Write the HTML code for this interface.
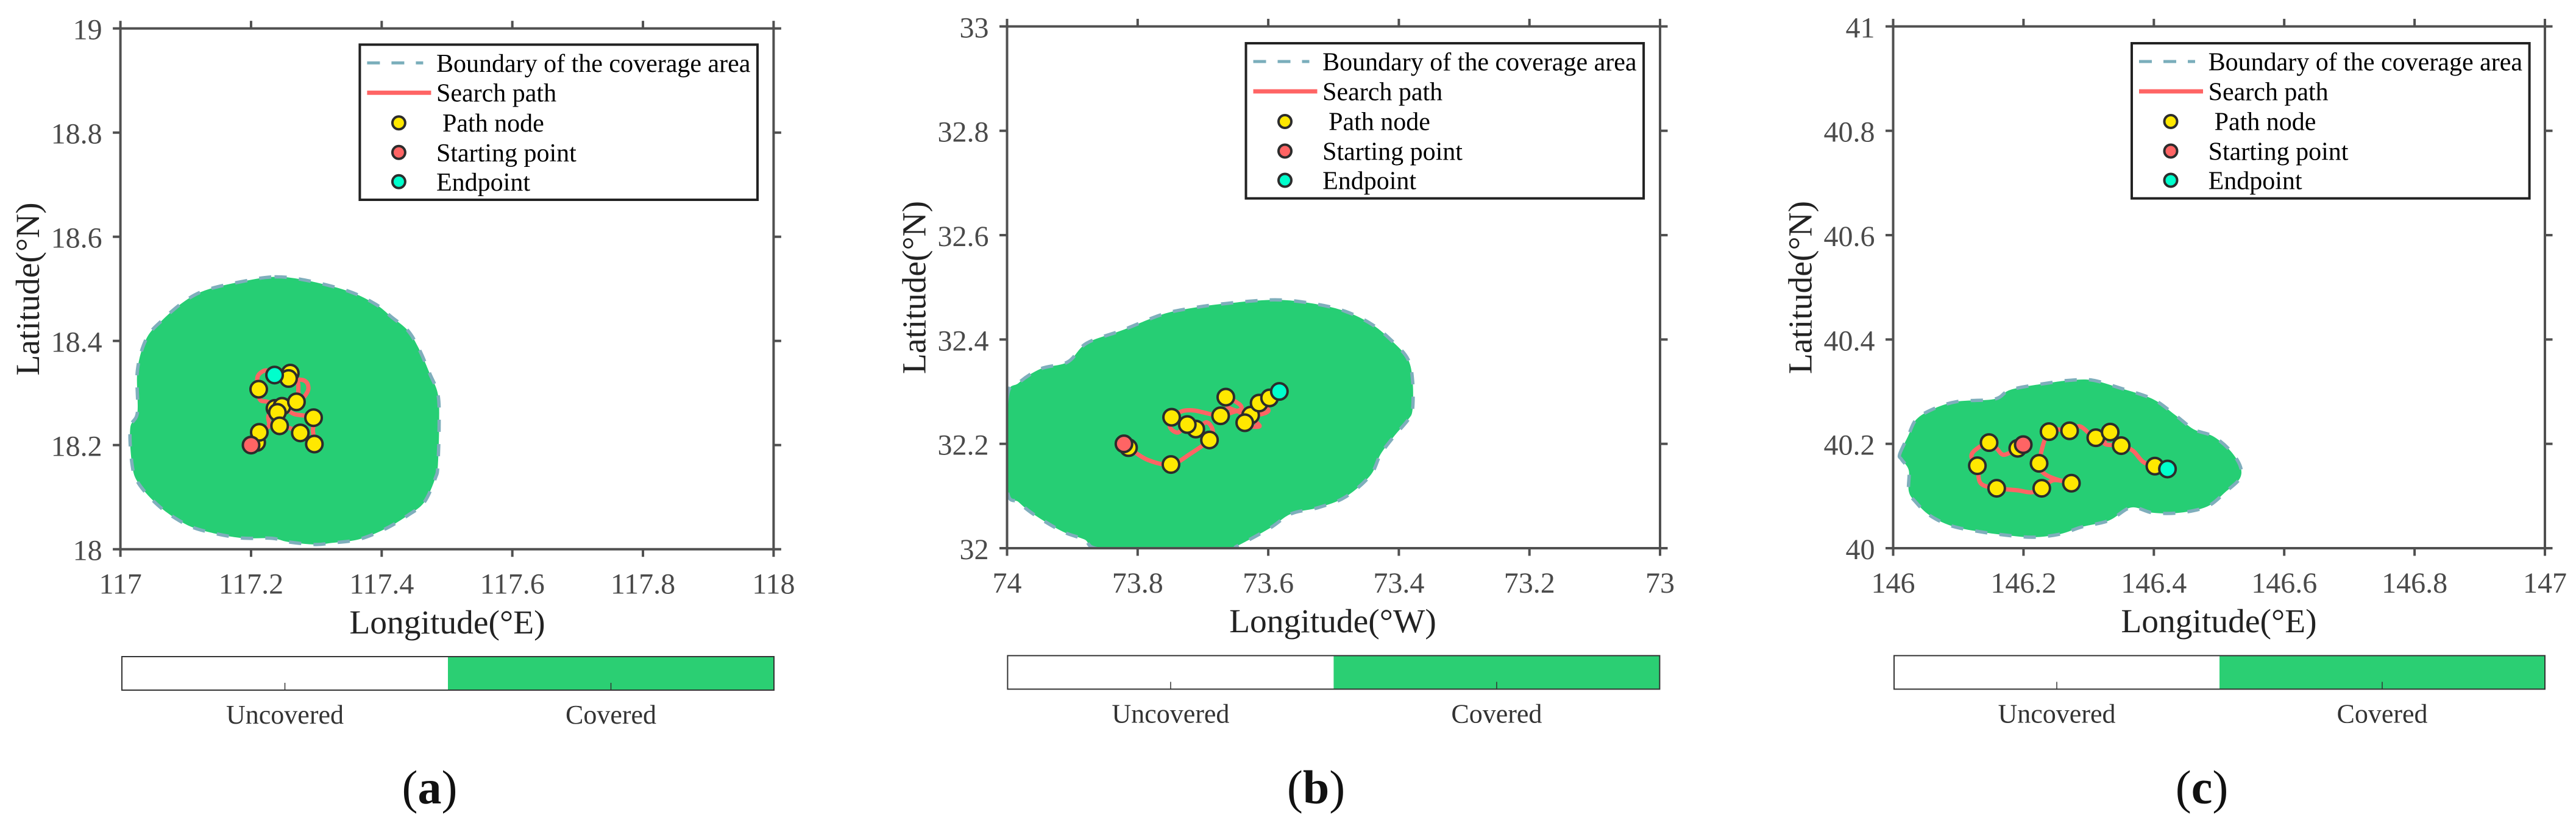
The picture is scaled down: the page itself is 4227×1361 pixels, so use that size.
<!DOCTYPE html>
<html lang="en">
<head>
<meta charset="utf-8">
<title>Coverage area and search path</title>
<style>
html,body{margin:0;padding:0;background:#fff;}
svg{display:block;font-family:"Liberation Serif",serif;}
.leg{font-size:42px;fill:#000;}
.cb{font-size:44px;fill:#333;text-anchor:middle;}
.cap{font-size:78px;fill:#111;text-anchor:middle;}
.tick-label{font-size:48px;fill:#4a4a4a;}
.axis-title{font-size:55.5px;fill:#222;text-anchor:middle;}
</style>
</head>
<body>
<svg id="chart" xmlns="http://www.w3.org/2000/svg" width="4227" height="1361" viewBox="0 0 4227 1361">
  <rect width="4227" height="1361" fill="#fff"/>

  <g id="panel-a"></g>
  <g id="panel-b"></g>
  <g id="panel-c"></g>

  <!-- axis titles -->
  <text class="axis-title" x="734" y="1040">Longitude(°E)</text>
  <text class="axis-title" transform="translate(64,474.5) rotate(-90)">Latitude(°N)</text>
  <text class="axis-title" x="2187" y="1038">Longitude(°W)</text>
  <text class="axis-title" transform="translate(1518.5,472) rotate(-90)">Latitude(°N)</text>
  <text class="axis-title" x="3641" y="1038">Longitude(°E)</text>
  <text class="axis-title" transform="translate(2972.5,472) rotate(-90)">Latitude(°N)</text>

  <!-- legends -->
  <g transform="translate(590.4,73.3)">
    <rect x="0" y="0" width="652.6" height="254.7" fill="#fff" stroke="#222" stroke-width="4"/>
    <line x1="12" x2="104" y1="30" y2="30" stroke="#7AAEBB" stroke-width="5" stroke-dasharray="21 19"/>
    <line x1="12" x2="117" y1="79" y2="79" stroke="#FF6464" stroke-width="7"/>
    <circle cx="64" cy="128.5" r="10.5" fill="#FFE800" stroke="#2c2c2c" stroke-width="4"/>
    <circle cx="64" cy="177" r="10.5" fill="#FF6464" stroke="#2c2c2c" stroke-width="4"/>
    <circle cx="64" cy="225" r="10.5" fill="#00FFCC" stroke="#2c2c2c" stroke-width="4"/>
    <text class="leg" x="125.6" y="44.7">Boundary of the coverage area</text>
    <text class="leg" x="125.6" y="93.4">Search path</text>
    <text class="leg" x="135.6" y="142.7">Path node</text>
    <text class="leg" x="125.6" y="191.7">Starting point</text>
    <text class="leg" x="125.6" y="239.7">Endpoint</text>
  </g>
  <g transform="translate(2044.5,71)">
    <rect x="0" y="0" width="652.6" height="254.7" fill="#fff" stroke="#222" stroke-width="4"/>
    <line x1="12" x2="104" y1="30" y2="30" stroke="#7AAEBB" stroke-width="5" stroke-dasharray="21 19"/>
    <line x1="12" x2="117" y1="79" y2="79" stroke="#FF6464" stroke-width="7"/>
    <circle cx="64" cy="128.5" r="10.5" fill="#FFE800" stroke="#2c2c2c" stroke-width="4"/>
    <circle cx="64" cy="177" r="10.5" fill="#FF6464" stroke="#2c2c2c" stroke-width="4"/>
    <circle cx="64" cy="225" r="10.5" fill="#00FFCC" stroke="#2c2c2c" stroke-width="4"/>
    <text class="leg" x="125.6" y="44.7">Boundary of the coverage area</text>
    <text class="leg" x="125.6" y="93.4">Search path</text>
    <text class="leg" x="135.6" y="142.7">Path node</text>
    <text class="leg" x="125.6" y="191.7">Starting point</text>
    <text class="leg" x="125.6" y="239.7">Endpoint</text>
  </g>
  <g transform="translate(3498,71)">
    <rect x="0" y="0" width="652.6" height="254.7" fill="#fff" stroke="#222" stroke-width="4"/>
    <line x1="12" x2="104" y1="30" y2="30" stroke="#7AAEBB" stroke-width="5" stroke-dasharray="21 19"/>
    <line x1="12" x2="117" y1="79" y2="79" stroke="#FF6464" stroke-width="7"/>
    <circle cx="64" cy="128.5" r="10.5" fill="#FFE800" stroke="#2c2c2c" stroke-width="4"/>
    <circle cx="64" cy="177" r="10.5" fill="#FF6464" stroke="#2c2c2c" stroke-width="4"/>
    <circle cx="64" cy="225" r="10.5" fill="#00FFCC" stroke="#2c2c2c" stroke-width="4"/>
    <text class="leg" x="125.6" y="44.7">Boundary of the coverage area</text>
    <text class="leg" x="125.6" y="93.4">Search path</text>
    <text class="leg" x="135.6" y="142.7">Path node</text>
    <text class="leg" x="125.6" y="191.7">Starting point</text>
    <text class="leg" x="125.6" y="239.7">Endpoint</text>
  </g>

  <!-- colorbars -->
  <g transform="translate(200,1078)">
    <rect x="535" y="0" width="535" height="55" fill="#2BCF73"/>
    <rect x="0" y="0" width="1070" height="55" fill="none" stroke="#333" stroke-width="2"/>
    <line x1="267.5" x2="267.5" y1="43" y2="55" stroke="#333" stroke-width="1.5"/>
    <line x1="802.5" x2="802.5" y1="43" y2="55" stroke="#333" stroke-width="1.5"/>
    <text class="cb" x="267.5" y="110">Uncovered</text>
    <text class="cb" x="802.5" y="110">Covered</text>
  </g>
  <g transform="translate(1653.4,1076.4)">
    <rect x="535" y="0" width="535" height="55" fill="#2BCF73"/>
    <rect x="0" y="0" width="1070" height="55" fill="none" stroke="#333" stroke-width="2"/>
    <line x1="267.5" x2="267.5" y1="43" y2="55" stroke="#333" stroke-width="1.5"/>
    <line x1="802.5" x2="802.5" y1="43" y2="55" stroke="#333" stroke-width="1.5"/>
    <text class="cb" x="267.5" y="110">Uncovered</text>
    <text class="cb" x="802.5" y="110">Covered</text>
  </g>
  <g transform="translate(3108,1076.4)">
    <rect x="534" y="0" width="534" height="55" fill="#2BCF73"/>
    <rect x="0" y="0" width="1068" height="55" fill="none" stroke="#333" stroke-width="2"/>
    <line x1="267" x2="267" y1="43" y2="55" stroke="#333" stroke-width="1.5"/>
    <line x1="801" x2="801" y1="43" y2="55" stroke="#333" stroke-width="1.5"/>
    <text class="cb" x="267" y="110">Uncovered</text>
    <text class="cb" x="801" y="110">Covered</text>
  </g>

  <!-- captions -->
  <text class="cap" x="705" y="1319">(<tspan font-weight="bold">a</tspan>)</text>
  <text class="cap" x="2159.6" y="1319">(<tspan font-weight="bold">b</tspan>)</text>
  <text class="cap" x="3613" y="1319">(<tspan font-weight="bold">c</tspan>)</text>
</svg>

<script>
// ---------- Panel A data ----------
const aLonTicks = [117, 117.2, 117.4, 117.6, 117.8, 118];
const aLonLabels = ['117', '117.2', '117.4', '117.6', '117.8', '118'];
const aLatTicks = [18, 18.2, 18.4, 18.6, 18.8, 19];
const aLatLabels = ['18', '18.2', '18.4', '18.6', '18.8', '19'];
const aBoundaryLon = [117.236,117.282,117.348,117.390,117.415,117.440,117.457,117.473,117.486,117.488,117.486,117.482,117.465,117.440,117.407,117.365,117.323,117.298,117.257,117.232,117.182,117.123,117.090,117.057,117.028,117.018,117.015,117.026,117.026,117.040,117.065,117.098,117.132,117.190];
const aBoundaryLat = [18.523,18.517,18.496,18.471,18.446,18.420,18.385,18.339,18.298,18.243,18.161,18.136,18.090,18.065,18.040,18.019,18.012,18.009,18.014,18.021,18.022,18.037,18.055,18.085,18.126,18.161,18.232,18.263,18.344,18.405,18.441,18.476,18.498,18.515];
const aPathLon = [117.200,117.2085,117.2125,117.2272,117.2265,117.2365,117.2474,117.2695,117.2800,117.2878,117.2816,117.2573,117.2598,117.2707,117.2723,117.2695,117.2402,117.2436,117.2598,117.2754,117.2847,117.2968,117.2946,117.2956,117.2660,117.2474,117.2256,117.2138,117.2116,117.2101,117.2225,117.2359];
const aPathLat = [18.200,18.2050,18.2245,18.2362,18.2557,18.2705,18.2744,18.2830,18.2908,18.3083,18.3239,18.3278,18.3383,18.3239,18.3064,18.2830,18.2627,18.2370,18.2323,18.2233,18.2128,18.2019,18.2284,18.2526,18.2596,18.2744,18.2830,18.2869,18.3071,18.3317,18.3434,18.3344];
const aNodeLon = [117.2086,117.2126,117.2117,117.2600,117.2574,117.2366,117.2474,117.2695,117.2403,117.2437,117.2754,117.2957,117.2969];
const aNodeLat = [18.2050,18.2245,18.3072,18.3383,18.3278,18.2705,18.2745,18.2830,18.2628,18.2370,18.2234,18.2526,18.2020];
const aStartLon = [117.200];
const aStartLat = [18.200];
const aEndLon = [117.2360];
const aEndLat = [18.3345];

// ---------- Panel B data ----------
const bLonTicks = [74, 73.8, 73.6, 73.4, 73.2, 73];
const bLonLabels = ['74', '73.8', '73.6', '73.4', '73.2', '73'];
const bLatTicks = [32, 32.2, 32.4, 32.6, 32.8, 33];
const bLatLabels = ['32', '32.2', '32.4', '32.6', '32.8', '33'];
const bBoundaryLon = [74.000,73.982,73.948,73.907,73.878,73.823,73.765,73.723,73.665,73.590,73.532,73.482,73.440,73.407,73.386,73.379,73.379,73.386,73.407,73.428,73.444,73.482,73.523,73.565,73.598,73.648,73.665,73.848,73.882,73.915,73.957,73.982,74.000];
const bBoundaryLat = [32.286,32.317,32.344,32.357,32.393,32.418,32.447,32.459,32.469,32.476,32.469,32.454,32.428,32.393,32.362,32.322,32.266,32.246,32.215,32.180,32.139,32.098,32.078,32.066,32.038,32.004,31.997,31.997,32.017,32.032,32.063,32.088,32.114];
const bPathLon = [73.820,73.814,73.7846,73.749,73.7193,73.690,73.685,73.6944,73.711,73.724,73.738,73.7504,73.748,73.7317,73.713,73.6882,73.673,73.654,73.6415,73.6446,73.665,73.6617,73.6415,73.636,73.6267,73.6135,73.618,73.6275,73.6104,73.5995,73.6135,73.598,73.583];
const bPathLat = [32.200,32.1927,32.1693,32.1604,32.1810,32.2074,32.2257,32.2413,32.2284,32.2370,32.2218,32.2316,32.2510,32.2627,32.2638,32.2568,32.2537,32.2607,32.2666,32.2763,32.2895,32.2705,32.2588,32.2405,32.2335,32.2335,32.2413,32.2549,32.2568,32.2646,32.2782,32.2880,32.3004];
const bNodeLon = [73.814,73.749,73.711,73.748,73.724,73.690,73.673,73.665,73.627,73.636,73.614,73.598];
const bNodeLat = [32.1927,32.1604,32.2284,32.2510,32.2370,32.2074,32.2537,32.2895,32.2549,32.2405,32.2782,32.2880];
const bStartLon = [73.821];
const bStartLat = [32.200];
const bEndLon = [73.583];
const bEndLat = [32.3004];

// ---------- Panel C data ----------
const cLonTicks = [146, 146.2, 146.4, 146.6, 146.8, 147];
const cLonLabels = ['146', '146.2', '146.4', '146.6', '146.8', '147'];
const cLatTicks = [40, 40.2, 40.4, 40.6, 40.8, 41];
const cLatLabels = ['40', '40.2', '40.4', '40.6', '40.8', '41'];
const cBoundaryLon = [146.010,146.023,146.035,146.060,146.098,146.156,146.181,146.240,146.273,146.306,146.348,146.398,146.432,146.461,146.490,146.515,146.532,146.532,146.511,146.482,146.440,146.398,146.365,146.331,146.290,146.256,146.215,146.173,146.131,146.089,146.056,146.035,146.024,146.024,146.013];
const cBoundaryLat = [40.180,40.215,40.246,40.266,40.281,40.286,40.304,40.317,40.322,40.322,40.307,40.286,40.256,40.228,40.215,40.190,40.159,40.134,40.109,40.080,40.068,40.068,40.078,40.053,40.041,40.027,40.021,40.025,40.032,40.043,40.063,40.088,40.109,40.149,40.170];
const cPathLon = [146.1996,146.1912,146.1700,146.1591,146.1472,146.1264,146.1201,146.1292,146.1342,146.1588,146.1903,146.2121,146.2280,146.2464,146.2735,146.2495,146.2308,146.2239,146.2392,146.2707,146.2869,146.3109,146.3330,146.3243,146.3499,146.3679,146.3835,146.4016,146.4209];
const cPathLat = [40.1985,40.1915,40.1791,40.1907,40.2024,40.1888,40.1752,40.1581,40.1246,40.1149,40.1110,40.1071,40.1149,40.1304,40.1246,40.1324,40.1441,40.1627,40.2234,40.2250,40.2335,40.2117,40.2226,40.2005,40.1966,40.1868,40.1654,40.1573,40.1518];
const cNodeLon = [146.1912,146.1472,146.1292,146.1588,146.2280,146.2735,146.2239,146.2392,146.2707,146.3109,146.3499,146.3330,146.4016];
const cNodeLat = [40.1915,40.2024,40.1581,40.1149,40.1149,40.1246,40.1627,40.2234,40.2250,40.2117,40.1966,40.2226,40.1573];
const cStartLon = [146.1996];
const cStartLat = [40.1985];
const cEndLon = [146.4209];
const cEndLat = [40.1518];

// ---------- Layout (plot rectangles in page pixels) ----------
const frameA = { left: 197.6, right: 1269.4, top: 46.7, bottom: 901.7 };
const frameB = { left: 1652.5, right: 2724, top: 43.4, bottom: 900 };
const frameC = { left: 3106.5, right: 4176, top: 43.4, bottom: 900 };

const SVGNS = 'http://www.w3.org/2000/svg';

function make(parent, tag, attrs) {
  const el = document.createElementNS(SVGNS, tag);
  for (const k in attrs) el.setAttribute(k, attrs[k]);
  parent.appendChild(el);
  return el;
}

function zip(xs, ys, sx, sy) {
  return xs.map(function (v, i) { return [sx(v), sy(ys[i])]; });
}

// Catmull-Rom smoothing through the given pixel points.
function smoothOpen(pts) {
  let d = 'M' + pts[0][0].toFixed(1) + ' ' + pts[0][1].toFixed(1);
  for (let i = 0; i < pts.length - 1; i++) {
    const p0 = pts[Math.max(i - 1, 0)], p1 = pts[i], p2 = pts[i + 1], p3 = pts[Math.min(i + 2, pts.length - 1)];
    d += 'C' + (p1[0] + (p2[0] - p0[0]) / 6).toFixed(1) + ' ' + (p1[1] + (p2[1] - p0[1]) / 6).toFixed(1) + ' ' +
      (p2[0] - (p3[0] - p1[0]) / 6).toFixed(1) + ' ' + (p2[1] - (p3[1] - p1[1]) / 6).toFixed(1) + ' ' +
      p2[0].toFixed(1) + ' ' + p2[1].toFixed(1);
  }
  return d;
}

function smoothClosed(pts) {
  const n = pts.length;
  let d = 'M' + pts[0][0].toFixed(1) + ' ' + pts[0][1].toFixed(1);
  for (let i = 0; i < n; i++) {
    const p0 = pts[(i - 1 + n) % n], p1 = pts[i], p2 = pts[(i + 1) % n], p3 = pts[(i + 2) % n];
    d += 'C' + (p1[0] + (p2[0] - p0[0]) / 6).toFixed(1) + ' ' + (p1[1] + (p2[1] - p0[1]) / 6).toFixed(1) + ' ' +
      (p2[0] - (p3[0] - p1[0]) / 6).toFixed(1) + ' ' + (p2[1] - (p3[1] - p1[1]) / 6).toFixed(1) + ' ' +
      p2[0].toFixed(1) + ' ' + p2[1].toFixed(1);
  }
  return d + 'Z';
}

function drawPanel(id, frame, lonTicks, lonLabels, latTicks, latLabels, bLon, bLat, pLon, pLat, nLon, nLat, sLon, sLat, eLon, eLat) {
  const root = document.getElementById('panel-' + id);
  const lon0 = lonTicks[0], lon1 = lonTicks[lonTicks.length - 1];
  const lat0 = latTicks[0], lat1 = latTicks[latTicks.length - 1];
  const sx = function (v) { return frame.left + (v - lon0) / (lon1 - lon0) * (frame.right - frame.left); };
  const sy = function (v) { return frame.bottom - (v - lat0) / (lat1 - lat0) * (frame.bottom - frame.top); };

  const clip = make(root, 'clipPath', { id: 'clip-' + id });
  make(clip, 'rect', { x: frame.left, y: frame.top, width: frame.right - frame.left, height: frame.bottom - frame.top });
  const plot = make(root, 'g', { 'clip-path': 'url(#clip-' + id + ')' });
  
  

  const boundaryD = smoothClosed(zip(bLon, bLat, sx, sy));
  const fill = make(plot, 'path', { d: boundaryD, fill: '#26CE74', stroke: 'none' });
  
  
  const edge = make(plot, 'path', { d: boundaryD, fill: 'none', stroke: '#7FAEBC', 'stroke-width': 5.5, 'stroke-dasharray': '20 20' });
  
  

  const route = make(plot, 'path', { d: smoothOpen(zip(pLon, pLat, sx, sy)), fill: 'none', stroke: '#FF6464', 'stroke-width': 7, 'stroke-linejoin': 'round', 'stroke-linecap': 'round' });
  
  

  nLon.forEach(function (v, i) {
    const c = make(plot, 'circle', { cx: sx(v), cy: sy(nLat[i]), r: 13.5, fill: '#FFE800', stroke: '#2c2c2c', 'stroke-width': 4 });
    
    
  });
  sLon.forEach(function (v, i) {
    const c = make(plot, 'circle', { cx: sx(v), cy: sy(sLat[i]), r: 13.5, fill: '#FF6464', stroke: '#2c2c2c', 'stroke-width': 4 });
    
    
  });
  eLon.forEach(function (v, i) {
    const c = make(plot, 'circle', { cx: sx(v), cy: sy(eLat[i]), r: 13.5, fill: '#00FFCC', stroke: '#2c2c2c', 'stroke-width': 4 });
    
    
  });

  const box = make(root, 'rect', { x: frame.left, y: frame.top, width: frame.right - frame.left, height: frame.bottom - frame.top, fill: 'none', stroke: '#505050', 'stroke-width': 4 });
  
  

  lonTicks.forEach(function (v, i) {
    const x = sx(v);
    const t1 = make(root, 'line', { x1: x, x2: x, y1: frame.bottom, y2: frame.bottom + 12.5, stroke: '#505050', 'stroke-width': 4 });
    
    
    const t2 = make(root, 'line', { x1: x, x2: x, y1: frame.top, y2: frame.top - 12.5, stroke: '#505050', 'stroke-width': 4 });
    
    
    const lab = make(root, 'text', { x: x, y: frame.bottom + 73, 'text-anchor': 'middle', class: 'tick-label' });
    
    
    lab.textContent = lonLabels[i];
  });
  latTicks.forEach(function (v, i) {
    const y = sy(v);
    const t1 = make(root, 'line', { x1: frame.left, x2: frame.left - 12.5, y1: y, y2: y, stroke: '#505050', 'stroke-width': 4 });
    
    
    const t2 = make(root, 'line', { x1: frame.right, x2: frame.right + 12.5, y1: y, y2: y, stroke: '#505050', 'stroke-width': 4 });
    
    
    const lab = make(root, 'text', { x: frame.left - 30, y: y + 18, 'text-anchor': 'end', class: 'tick-label' });
    
    
    lab.textContent = latLabels[i];
  });
}

drawPanel('a', frameA, aLonTicks, aLonLabels, aLatTicks, aLatLabels, aBoundaryLon, aBoundaryLat, aPathLon, aPathLat, aNodeLon, aNodeLat, aStartLon, aStartLat, aEndLon, aEndLat);
drawPanel('b', frameB, bLonTicks, bLonLabels, bLatTicks, bLatLabels, bBoundaryLon, bBoundaryLat, bPathLon, bPathLat, bNodeLon, bNodeLat, bStartLon, bStartLat, bEndLon, bEndLat);
drawPanel('c', frameC, cLonTicks, cLonLabels, cLatTicks, cLatLabels, cBoundaryLon, cBoundaryLat, cPathLon, cPathLat, cNodeLon, cNodeLat, cStartLon, cStartLat, cEndLon, cEndLat);
</script>
</body>
</html>
